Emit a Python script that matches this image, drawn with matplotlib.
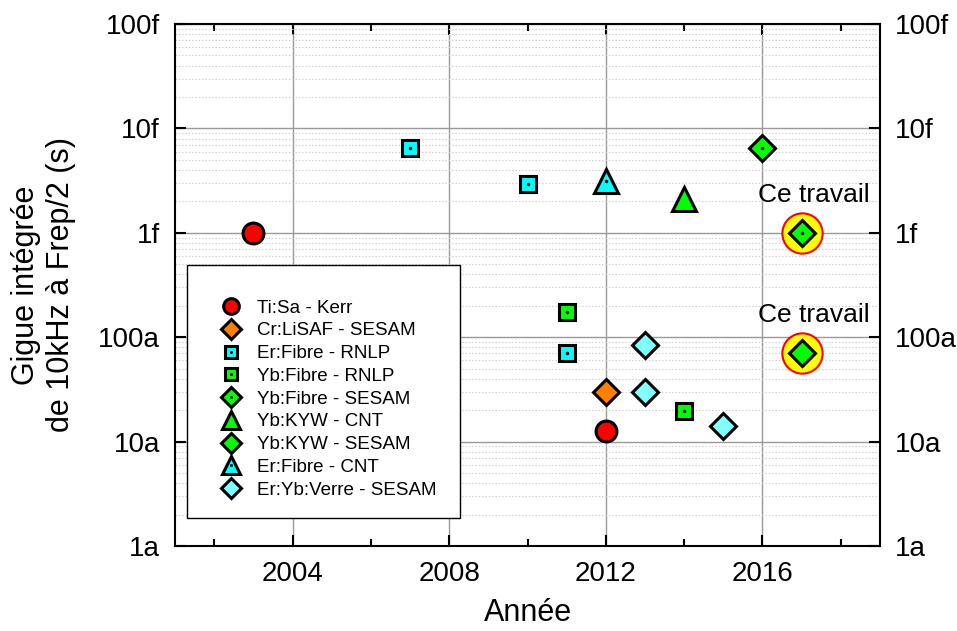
import matplotlib
matplotlib.use("Agg")
import matplotlib.pyplot as plt
from matplotlib.ticker import FixedLocator, LogLocator, NullFormatter
from matplotlib.legend_handler import HandlerTuple
from matplotlib.patches import Rectangle

plt.rcParams['font.family'] = ['Liberation Sans', 'DejaVu Sans']

# data (year, jitter in s)
tisa_x = [2003, 2012]
tisa_y = [1.0e-15, 12.7e-18]
crlisaf_x = [2012]
crlisaf_y = [30e-18]
erfib_rnlp_x = [2007, 2010, 2011]
erfib_rnlp_y = [6.5e-15, 2.95e-15, 70e-18]
ybfib_rnlp_x = [2011, 2014]
ybfib_rnlp_y = [174e-18, 19.8e-18]
ybfib_sesam_x = [2016, 2017]
ybfib_sesam_y = [6.5e-15, 1.0e-15]
ybkyw_cnt_x = [2014]
ybkyw_cnt_y = [2.1e-15]
ybkyw_sesam_x = [2017]
ybkyw_sesam_y = [70e-18]
erfib_cnt_x = [2012]
erfib_cnt_y = [3.15e-15]
eryb_x = [2013, 2013, 2015]
eryb_y = [84e-18, 30e-18, 14e-18]

# "Ce travail" points
travail_x = [2017, 2017]
travail_y = [1.0e-15, 70e-18]

yticks = [1e-18, 1e-17, 1e-16, 1e-15, 1e-14, 1e-13]
ylabels = ["1a", "10a", "100a", "1f", "10f", "100f"]
xticks = [2004, 2008, 2012, 2016]

fig = plt.figure(figsize=(9.57, 6.31), dpi=100)
ax = fig.add_axes([0.183, 0.1347, 0.7365, 0.8273])

ax.set_yscale("log")
ax.set_ylim(1e-18, 1e-13)
ax.set_xlim(2001, 2019)

ax.grid(True, which="major", color="#999999", linewidth=1.0)
ax.yaxis.grid(True, which="minor", color="#cccccc", linestyle=(0, (1.2, 1.8)), linewidth=0.8)
ax.set_axisbelow(True)

ew = 2.2
# yellow halo behind this work
ax.plot(travail_x, travail_y, "o", ms=29, mfc="#ffff00", mec="#ff0000", mew=1.5, zorder=2)

def dots(x, y):
    return ax.plot(x, y, ".", ms=3, color="black", zorder=4)[0]

h1 = ax.plot(tisa_x, tisa_y, "o", ms=15, mfc="#ff0000", mec="black", mew=ew, zorder=3)[0]
h2 = ax.plot(crlisaf_x, crlisaf_y, "D", ms=13, mfc="#ff8000", mec="black", mew=ew, zorder=3)[0]
h3 = ax.plot(erfib_rnlp_x, erfib_rnlp_y, "s", ms=12, mfc="#00ffff", mec="black", mew=ew, zorder=3)[0]
d3 = dots(erfib_rnlp_x, erfib_rnlp_y)
h4 = ax.plot(ybfib_rnlp_x, ybfib_rnlp_y, "s", ms=12, mfc="#00ff00", mec="black", mew=ew, zorder=3)[0]
d4 = dots(ybfib_rnlp_x, ybfib_rnlp_y)
h5 = ax.plot(ybfib_sesam_x, ybfib_sesam_y, "D", ms=13, mfc="#00ff00", mec="black", mew=ew, zorder=3)[0]
d5 = dots(ybfib_sesam_x, ybfib_sesam_y)
h6 = ax.plot(ybkyw_cnt_x, ybkyw_cnt_y, "^", ms=17, mfc="#00ff00", mec="black", mew=ew, zorder=3)[0]
h7 = ax.plot(ybkyw_sesam_x, ybkyw_sesam_y, "D", ms=13, mfc="#00ff00", mec="black", mew=ew, zorder=3)[0]
h8 = ax.plot(erfib_cnt_x, erfib_cnt_y, "^", ms=17, mfc="#00ffff", mec="black", mew=ew, zorder=3)[0]
d8 = dots(erfib_cnt_x, erfib_cnt_y)
h9 = ax.plot(eryb_x, eryb_y, "D", ms=13, mfc="#80ffff", mec="black", mew=ew, zorder=3)[0]

for x, y in zip(travail_x, travail_y):
    ax.text(x + 0.3, y * 1.77, "Ce travail", fontsize=19, ha="center", va="bottom")

ax.set_yticks(yticks)
ax.set_yticklabels(ylabels)
ax.yaxis.set_minor_locator(LogLocator(base=10, subs=range(2, 10)))
ax.yaxis.set_minor_formatter(NullFormatter())
ax.set_xticks(xticks)
ax.xaxis.set_minor_locator(FixedLocator([2002, 2006, 2010, 2014, 2018]))

ax.tick_params(which="both", direction="in", top=True, right=True, labelright=True,
               labelsize=20, width=1.5, color="black")
ax.tick_params(which="major", length=8, pad=11)
ax.tick_params(which="minor", length=5)
ax.tick_params(axis="y", which="minor", length=0)
for s in ax.spines.values():
    s.set_linewidth(1.5)

ax.set_xlabel("Année", fontsize=22, labelpad=8)
ax.set_ylabel("Gigue intégrée\nde 10kHz à Frep/2 (s)", fontsize=22, labelpad=16)

# legend frame
ax.add_patch(Rectangle((0.017, 0.054), 0.387, 0.484, transform=ax.transAxes,
                       facecolor="white", edgecolor="black", linewidth=1.0, zorder=5))
handles = [h1, h2, (h3, d3), (h4, d4), (h5, d5), h6, h7, (h8, d8), h9]
labels = ["Ti:Sa - Kerr", "Cr:LiSAF - SESAM", "Er:Fibre - RNLP", "Yb:Fibre - RNLP",
          "Yb:Fibre - SESAM", "Yb:KYW - CNT", "Yb:KYW - SESAM", "Er:Fibre - CNT",
          "Er:Yb:Verre - SESAM"]
leg = ax.legend(handles, labels, handler_map={tuple: HandlerTuple(ndivide=1, pad=0)},
                loc="upper left", bbox_to_anchor=(0.053, 0.49), frameon=False,
                fontsize=13.5, labelspacing=0.3, handlelength=1.0, handletextpad=0.9,
                borderpad=0, markerscale=0.75)
leg.set_zorder(6)

fig.savefig("out.png", dpi=100)
